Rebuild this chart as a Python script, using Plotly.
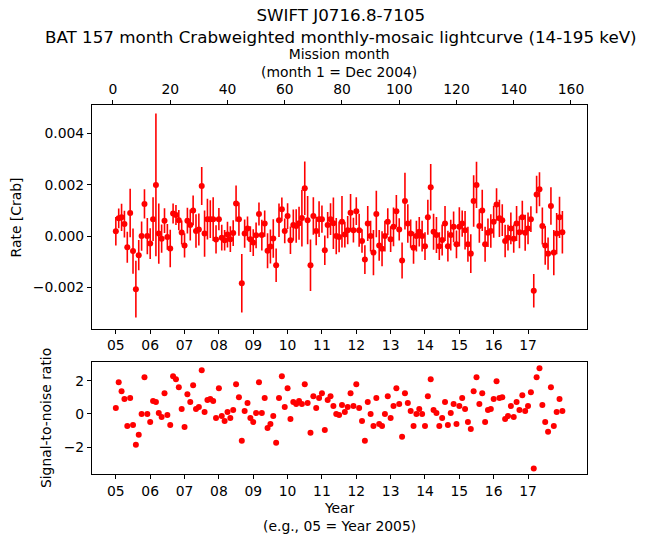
import plotly.graph_objects as go

# ---- data ----
months = list(range(1, 158))

rate = [
    0.00019, 0.00069, 0.00073, 0.00047, -0.00043, 0.0009, -0.00058, -0.00206, -0.00074, 0.0,
    0.00125, 0.0, -0.00029, 0.00066, 0.00199, 0.0001, -0.0001, 0.0006, -0.00003, -0.00048,
    0.00088, 0.00082, 0.00062, 0.00014, -0.00036, 0.0006, 0.00043, 0.001, 0.0002, 0.00026,
    0.00195, 0.0001, 0.00066, 0.00066, 0.00066, -0.00013, 0.00066, -0.00006, -0.00016, 0.00006,
    -0.00012, 0.00012, 0.00127, 0.00066, -0.00183, 0.0001, 0.0003, -0.00012, -0.00025, 0.00003,
    0.00086, 0.00004, 0.00049, -0.00057, -0.0004, -0.00009, -0.00113, 0.00062, 0.00104, 0.0002,
    0.00078, -0.00016, 0.00043, 0.00039, 0.0005, 0.0007, 0.00186, 0.00062, -0.00113, 0.00078,
    0.0002, 0.00066, 0.00066, -0.00055, 0.00043, 0.00066, 0.0005, 0.0, -0.00003, 0.00056,
    0.00006, 0.00023, 0.00091, 0.00023, 0.00097, 0.00023, -0.00019, -0.00091, 0.00049, 0.0,
    -0.00064, 0.00086, -0.00036, -0.00049, 0.0, 0.00056, -0.00012, 0.00036, 0.00097, 0.00026,
    -0.00095, 0.00136, 0.00049, 0.0001, -0.00045, 0.0, 0.00017, 0.0, -0.00039, 0.00073,
    0.0019, 0.00017, 0.00004, -0.00039, -0.00015, 0.00049, -0.00039, 0.00004, 0.00036, -0.00032,
    0.00036, 0.00049, 0.00023, -0.00032, -0.00068, 0.00136, 0.00199, 0.00039, 0.001, -0.00032,
    0.00013, 0.0002, 0.00056, 0.00123, 0.00069, 0.00062, -0.00019, -0.00006, 0.0003, -0.0001,
    0.00049, 0.00015, 0.00073, 0.00013, 0.0003, 0.00066, -0.00212, 0.00162, 0.00182, 0.00039,
    -0.00036, -0.00068, 0.00117, -0.00064, 0.0001, 0.00073, 0.00015,
]

rate_err = [
    0.00055, 0.00038, 0.00053, 0.00052, 0.0006, 0.00094, 0.00088, 0.0011, 0.00059, 0.00057,
    0.00057, 0.0007, 0.0006, 0.00085, 0.00277, 0.00117, 0.00055, 0.00048, 0.0005, 0.00073,
    0.00039, 0.00039, 0.00039, 0.00047, 0.00047, 0.0005, 0.0006, 0.00058, 0.00065, 0.00062,
    0.00074, 0.0009, 0.00079, 0.00073, 0.00085, 0.00055, 0.00043, 0.0005, 0.0004, 0.0005,
    0.0005, 0.0005, 0.0007, 0.00065, 0.00114, 0.00055, 0.00046, 0.0005, 0.00052, 0.0005,
    0.00045, 0.0006, 0.00051, 0.00068, 0.00066, 0.00075, 0.00065, 0.00065, 0.00046, 0.00048,
    0.0005, 0.00053, 0.0006, 0.00065, 0.00064, 0.0011, 0.00104, 0.00094, 0.001, 0.00073,
    0.00055, 0.00069, 0.00053, 0.00057, 0.00051, 0.00062, 0.001, 0.0007, 0.0006, 0.001,
    0.0005, 0.00055, 0.00073, 0.00048, 0.00054, 0.00064, 0.00046, 0.00056, 0.00068, 0.0006,
    0.00088, 0.0009, 0.0006, 0.00068, 0.0006, 0.00052, 0.0005, 0.00075, 0.00063, 0.00043,
    0.0007, 0.0011, 0.00075, 0.00055, 0.00062, 0.0006, 0.00057, 0.0006, 0.00054, 0.00068,
    0.0009, 0.0007, 0.0007, 0.00054, 0.0006, 0.00068, 0.0006, 0.0006, 0.0006, 0.00054,
    0.00076, 0.00051, 0.00075, 0.00068, 0.00075, 0.001, 0.0009, 0.00065, 0.0008, 0.00068,
    0.00055, 0.00065, 0.00062, 0.00063, 0.00072, 0.00062, 0.00063, 0.0005, 0.00062, 0.00055,
    0.00068, 0.00062, 0.00064, 0.0007, 0.00062, 0.0005, 0.00065, 0.00073, 0.00066, 0.00072,
    0.00075, 0.00063, 0.00073, 0.00088, 0.0008, 0.0008, 0.00083,
]

snr = [
    0.36, 1.91, 1.37, 0.90, -0.72, 0.96, -0.66, -1.85, -1.25, 0.00,
    2.21, 0.00, -0.48, 0.78, 0.72, 0.06, -0.18, 1.25, -0.06, -0.66,
    2.27, 2.09, 1.61, 0.30, -0.78, 1.19, 0.72, 1.73, 0.30, 0.42,
    2.63, 0.12, 0.84, 0.90, 0.78, -0.24, 1.55, -0.12, -0.42, 0.12,
    -0.24, 0.24, 1.79, 1.01, -1.61, 0.18, 0.66, -0.24, -0.48, 0.06,
    1.91, 0.06, 0.96, -0.84, -0.60, -0.12, -1.73, 0.96, 2.27, 0.42,
    1.55, -0.30, 0.72, 0.60, 0.78, 0.60, 1.79, 0.66, -1.13, 1.07,
    0.36, 0.96, 1.25, -0.96, 0.84, 1.07, 0.48, 0.00, -0.06, 0.54,
    0.12, 0.42, 1.25, 0.48, 1.79, 0.36, -0.42, -1.61, 0.72, 0.00,
    -0.72, 0.96, -0.60, -0.72, 0.00, 1.07, -0.24, 0.48, 1.55, 0.60,
    -1.37, 1.25, 0.66, 0.18, -0.72, 0.00, 0.30, 0.00, -0.72, 1.07,
    2.09, 0.24, 0.06, -0.72, -0.24, 0.72, -0.66, 0.06, 0.60, -0.60,
    0.48, 0.96, 0.30, -0.48, -0.90, 1.37, 2.21, 0.60, 1.25, -0.48,
    0.24, 0.30, 0.90, 1.97, 0.96, 1.01, -0.30, -0.12, 0.48, -0.18,
    0.72, 0.24, 1.13, 0.18, 0.48, 1.31, -3.28, 2.21, 2.75, 0.54,
    -0.48, -1.07, 1.61, -0.72, 0.12, 0.90, 0.18,
]

year_labels = ["05", "06", "07", "08", "09", "10", "11", "12", "13", "14", "15", "16", "17"]
year_tick_months = [1 + 12 * i for i in range(len(year_labels))]
mission_ticks = [0, 20, 40, 60, 80, 100, 120, 140, 160]
rate_ticks = [-0.002, 0.0, 0.002, 0.004]
rate_tick_text = ["\u22120.002", "0.000", "0.002", "0.004"]
snr_ticks = [-2, 0, 2]
snr_tick_text = ["\u22122", "0", "2"]

# ---- styling ----
RED = "#ff0000"
FONT = "DejaVu Sans"
FS = 13.9
TFS = 16.7
XR = [-7.33, 165.6]
ML, MR, MT, MB = 92, 58.7, 104.5, 69
W, H = 646, 543

fig = go.Figure()
fig.add_trace(go.Scatter(
    x=months, y=rate, mode="markers",
    marker=dict(color=RED, size=6),
    error_y=dict(type="data", array=rate_err, visible=True, color=RED, thickness=1.6, width=0),
    xaxis="x", yaxis="y", showlegend=False,
))
fig.add_trace(go.Scatter(
    x=months, y=snr, mode="markers",
    marker=dict(color=RED, size=6),
    xaxis="x2", yaxis="y2", showlegend=False,
))

axis_common = dict(
    showline=True, linecolor="black", linewidth=1.1, mirror=True,
    ticks="outside", ticklen=4, tickwidth=1.1, tickcolor="black",
    showgrid=False, zeroline=False, automargin=False,
    tickfont=dict(family=FONT, size=FS, color="black"),
)

fig.update_layout(
    width=W, height=H,
    margin=dict(l=ML, r=MR, t=MT, b=MB, pad=0, autoexpand=False),
    paper_bgcolor="white", plot_bgcolor="white",
    font=dict(family=FONT, size=FS, color="black"),
    xaxis=dict(domain=[0, 1], anchor="y", range=XR,
               tickvals=year_tick_months, ticktext=year_labels, **axis_common),
    yaxis=dict(domain=[0.3943, 1], anchor="x", range=[-0.003589, 0.005094],
               tickvals=rate_ticks, ticktext=rate_tick_text, **axis_common),
    xaxis2=dict(domain=[0, 1], anchor="y2", range=XR,
                tickvals=year_tick_months, ticktext=year_labels, **axis_common),
    yaxis2=dict(domain=[0, 0.3023], anchor="x2", range=[-3.61, 3.10],
                tickvals=snr_ticks, ticktext=snr_tick_text, **axis_common),
    xaxis3=dict(overlaying="x", side="top", anchor="y", range=XR,
                tickvals=mission_ticks, ticktext=[str(v) for v in mission_ticks],
                showline=False, ticks="outside", ticklen=4, tickwidth=1.1, tickcolor="black",
                showgrid=False, zeroline=False, automargin=False,
                tickfont=dict(family=FONT, size=FS, color="black")),
)

# invisible helper trace so xaxis3 is drawn
fig.add_trace(go.Scatter(x=[XR[0]], y=[0], xaxis="x3", yaxis="y", mode="markers",
                         marker=dict(opacity=0), showlegend=False, hoverinfo="skip"))


def px_to_paper(px, py):
    return (px - ML) / (W - ML - MR), (H - MB - py) / (H - MT - MB)


def label(text, px, py, angle=0, size=FS):
    x, y = px_to_paper(px, py)
    fig.add_annotation(text=text, x=x, y=y, xref="paper", yref="paper",
                       showarrow=False, textangle=angle, xanchor="center", yanchor="middle",
                       font=dict(family=FONT, size=size, color="black"))


label("SWIFT J0716.8-7105<br>BAT 157 month Crabweighted monthly-mosaic lightcurve (14-195 keV)",
      341, 25, size=TFS)
label("Mission month<br>(month 1 = Dec 2004)", 339.5, 62.5)
label("Rate [Crab]", 16, 217, angle=-90)
label("Signal-to-noise ratio", 46, 418, angle=-90)
label("Year<br>(e.g., 05 = Year 2005)", 339.5, 517)

fig.write_html(
    "out.html",
    config={"displayModeBar": False},
    post_script="document.body.style.margin='0';document.body.style.padding='0';",
)
